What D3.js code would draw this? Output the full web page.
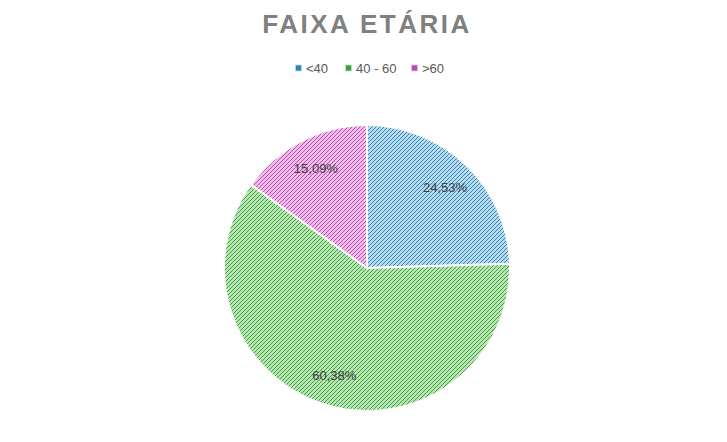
<!DOCTYPE html>
<html>
<head>
<meta charset="utf-8">
<script src="https://cdn.jsdelivr.net/npm/d3@7"></script>
<style>
  html, body { margin: 0; padding: 0; background: #fff; }
  svg { display: block; font-family: "Liberation Sans", Arial, sans-serif; }
</style>
</head>
<body>
<div id="chart"></div>
<script>
  const categories = ["<40", "40 - 60", ">60"];
  const values = [24.53, 60.38, 15.09];
  const labels = ["24,53%", "60,38%", "15,09%"];
  const fills = ["#b4dcf2", "#b6e8b0", "#f3bdec"];
  const stripes = ["#3a80ae", "#44994a", "#b64cae"];

  const width = 727;
  const height = 442;
  const cx = 367;
  const cy = 268;
  const radius = 143;

  const svg = d3.select("#chart")
    .append("svg")
    .attr("width", width)
    .attr("height", height);

  const defs = svg.append("defs");
  categories.forEach((category, i) => {
    const pattern = defs.append("pattern")
      .attr("id", `stripe-${i}`)
      .attr("patternUnits", "userSpaceOnUse")
      .attr("width", 4)
      .attr("height", 4);
    pattern.append("rect")
      .attr("width", 4)
      .attr("height", 4)
      .attr("fill", fills[i]);
    pattern.append("path")
      .attr("d", "M-1,1 L1,-1 M0,4 L4,0 M3,5 L5,3")
      .attr("stroke", stripes[i])
      .attr("stroke-width", 1);
  });

  svg.append("text")
    .attr("x", cx)
    .attr("y", 33)
    .attr("text-anchor", "middle")
    .attr("font-size", 26)
    .attr("font-weight", "bold")
    .attr("letter-spacing", 2.5)
    .attr("fill", "#808080")
    .text("FAIXA ETÁRIA");

  // legend
  const legendX = [295, 345, 411];
  const legend = svg.append("g");
  categories.forEach((category, i) => {
    const item = legend.append("g").attr("transform", `translate(${legendX[i]}, 68)`);
    item.append("rect")
      .attr("x", 0.5)
      .attr("y", -3)
      .attr("width", 6)
      .attr("height", 6)
      .attr("fill", stripes[i])
      .attr("stroke", fills[i])
      .attr("stroke-width", 0.8);
    item.append("text")
      .attr("x", 11)
      .attr("y", 4.5)
      .attr("font-size", 13)
      .attr("fill", "#595959")
      .text(category);
  });

  const pie = d3.pie().sort(null).value((d) => d);
  const arcs = pie(values);
  const arc = d3.arc().innerRadius(0).outerRadius(radius);
  const labelArc = d3.arc().innerRadius(112).outerRadius(112);

  const g = svg.append("g").attr("transform", `translate(${cx}, ${cy})`);

  g.selectAll("path.slice")
    .data(arcs)
    .join("path")
    .attr("class", "slice")
    .attr("d", arc)
    .attr("fill", (d, i) => `url(#stripe-${i})`)
    .attr("stroke", "#fff")
    .attr("stroke-width", 2);

  g.selectAll("text.label")
    .data(arcs)
    .join("text")
    .attr("class", "label")
    .attr("transform", (d) => `translate(${labelArc.centroid(d)})`)
    .attr("text-anchor", "middle")
    .attr("dy", "0.35em")
    .attr("font-size", 13)
    .attr("fill", "#404040")
    .text((d, i) => labels[i]);
</script>
</body>
</html>
